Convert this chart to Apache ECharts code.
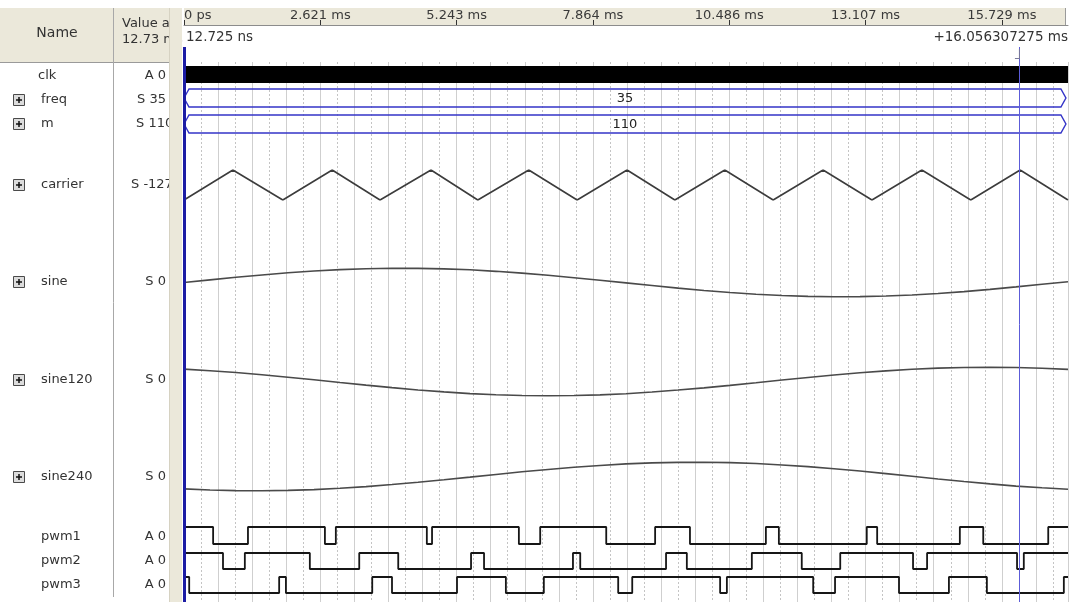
<!DOCTYPE html>
<html>
<head>
<meta charset="utf-8">
<script src="https://cdn.jsdelivr.net/npm/echarts@6/dist/echarts.min.js"></script>
<style>
html, body { margin: 0; padding: 0; background: #fff; }
#chart-canvas { width: 1073px; height: 602px; }
</style>
</head>
<body>
<div id="chart-canvas"></div>
<script>
// all times in ms
const T_MAX = 17.0;
const GRID_STEP = 0.32768;   // dashed grid lines
const TICK_STEP = 2.62144;   // time ruler labels
const cursorTimes = [0, 16.056307275];

const signalNames = ['clk', 'freq', 'm', 'carrier', 'sine', 'sine120', 'sine240', 'pwm1', 'pwm2', 'pwm3'];
const signalValues = ['A 0', 'S 35', 'S 110', 'S -127', 'S 0', 'S 0', 'S 0', 'A 0', 'A 0', 'A 0'];
const hasExpand = [false, true, true, true, true, true, true, false, false, false];

// clk toggles far too fast to resolve, shown as one solid block
const clkBlock = [[0, 17.0]];
const freqBus = [[0, 16.96, 35]];
const mBus = [[0, 16.96, 110]];

const carrierTimes = [0, 0.94, 1.90, 2.85, 3.77, 4.75, 5.65, 6.63, 7.56, 8.52, 9.44, 10.40, 11.33, 12.29, 13.23, 14.19, 15.13, 16.08, 17.0];
const carrierLevels = [-127, 127, -127, 127, -127, 127, -127, 127, -127, 127, -127, 127, -127, 127, -127, 127, -127, 127, -127];

const sineTimes = [0, 0.5, 1, 1.5, 2, 2.5, 3, 3.5, 4, 4.5, 5, 5.5, 6, 6.5, 7, 7.5, 8, 8.5, 9, 9.5, 10, 10.5, 11, 11.5, 12, 12.5, 13, 13.5, 14, 14.5, 15, 15.5, 16, 16.5, 17];
const sineValues = [0, 20, 40, 58, 75, 88, 99, 106, 110, 109, 105, 98, 86, 72, 56, 37, 17, -3, -23, -43, -61, -77, -90, -100, -107, -110, -109, -104, -96, -85, -70, -53, -34, -14, 6];
const sine120Values = [95, 83, 69, 52, 33, 13, -8, -28, -47, -65, -80, -93, -102, -108, -110, -108, -103, -94, -81, -66, -49, -30, -10, 11, 31, 50, 67, 82, 94, 103, 108, 110, 108, 102, 93];
const sine240Values = [-95, -104, -109, -110, -107, -101, -91, -78, -62, -44, -25, -5, 16, 36, 54, 71, 85, 97, 105, 109, 110, 107, 100, 89, 76, 60, 42, 22, 2, -19, -39, -57, -74, -87, -98];

// edge times, every signal starts high
const pwm1Edges = [0.56, 1.23, 2.71, 2.92, 4.67, 4.77, 6.44, 6.85, 8.12, 9.06, 9.73, 11.19, 11.44, 13.13, 13.33, 14.92, 15.37, 16.62];
const pwm2Edges = [0.75, 1.17, 2.42, 3.37, 4.12, 5.52, 5.77, 7.48, 7.62, 9.27, 9.67, 10.92, 11.88, 12.62, 14.02, 14.29, 16.02, 16.15];
const pwm3Edges = [0.10, 1.83, 1.96, 3.62, 4.00, 5.25, 6.19, 6.92, 8.35, 8.62, 10.31, 10.44, 12.10, 12.52, 13.75, 14.71, 15.44, 16.92];

// layout of the rows (pixels)
const rows = [
    { top: 66, height: 17, labelY: 76 },
    { top: 89, height: 18, labelY: 100 },
    { top: 115, height: 18, labelY: 124 },
    { top: 170, height: 30, labelY: 185 },
    { top: 266, height: 33, labelY: 282 },
    { top: 365, height: 33, labelY: 380 },
    { top: 460, height: 33, labelY: 477 },
    { top: 527, height: 17, labelY: 537 },
    { top: 553, height: 16, labelY: 561 },
    { top: 577, height: 16, labelY: 585 }
];
const PLOT_LEFT = 184;
const PLOT_RIGHT = 5;
const BEIGE = '#ebe8da';
const FONT = '"DejaVu Sans", sans-serif';

function zip(xs, ys) {
    return xs.map((x, i) => [x, ys[i]]);
}

function stepData(edges) {
    let level = 1;
    const d = [[0, level]];
    edges.forEach(t => {
        level = 1 - level;
        d.push([t, level]);
    });
    d.push([T_MAX, level]);
    return d;
}

function busItem(params, api) {
    const x0 = api.coord([api.value(0), 0])[0];
    const x1 = api.coord([api.value(1), 0])[0];
    const yT = api.coord([0, 1])[1];
    const yB = api.coord([0, -1])[1];
    const yM = (yT + yB) / 2;
    const n = 5;
    return {
        type: 'group',
        children: [
            {
                type: 'polygon',
                shape: { points: [[x0, yM], [x0 + n, yT], [x1 - n, yT], [x1, yM], [x1 - n, yB], [x0 + n, yB]] },
                style: { fill: 'none', stroke: '#3434c8', lineWidth: 1.4 }
            },
            {
                type: 'text',
                style: {
                    text: String(api.value(2)), x: (x0 + x1) / 2, y: yM + 1,
                    align: 'center', verticalAlign: 'middle', fill: '#222', font: '13px ' + FONT
                }
            }
        ]
    };
}

function clkItem(params, api) {
    const p0 = api.coord([api.value(0), 1]);
    const p1 = api.coord([api.value(1), 0]);
    return {
        type: 'rect',
        shape: { x: p0[0], y: p0[1], width: p1[0] - p0[0], height: p1[1] - p0[1] },
        style: { fill: '#000' }
    };
}

// small cursor handle drawn in the ruler strip
function cursorHandle(params, api) {
    const x = api.coord([api.value(0), 0])[0];
    return {
        type: 'group',
        children: [
            { type: 'line', shape: { x1: x + 0.5, y1: 49, x2: x + 0.5, y2: 59 }, style: { stroke: '#7a7a9a', lineWidth: 1 } },
            { type: 'line', shape: { x1: x - 4, y1: 58.5, x2: x + 1, y2: 58.5 }, style: { stroke: '#7a7a9a', lineWidth: 1 } }
        ]
    };
}

const chart = echarts.init(document.getElementById('chart-canvas'));

const grids = [
    { left: PLOT_LEFT, right: PLOT_RIGHT, top: 8, height: 17 },   // time ruler
    { left: PLOT_LEFT, right: PLOT_RIGHT, top: 62, bottom: 0 },   // grid lines
    { left: PLOT_LEFT, right: PLOT_RIGHT, top: 47, bottom: 0 }    // cursors
];
rows.forEach(r => grids.push({ left: PLOT_LEFT, right: PLOT_RIGHT, top: r.top, height: r.height }));

const xAxes = [
    {
        gridIndex: 0, type: 'value', min: 0, max: T_MAX, interval: TICK_STEP,
        axisLine: { show: true, lineStyle: { color: '#8c8c8c' } },
        axisTick: { show: true, inside: true, length: 5, lineStyle: { color: '#333' } },
        axisLabel: {
            inside: true, margin: 3, showMaxLabel: false, alignMinLabel: 'left',
            color: '#3a3a3a', fontSize: 13, fontFamily: FONT,
            formatter: v => (v === 0 ? '0 ps' : v.toFixed(3) + ' ms')
        },
        splitLine: { show: false }
    },
    {
        gridIndex: 1, type: 'value', min: 0, max: T_MAX, interval: GRID_STEP * 2,
        axisLine: { show: false }, axisTick: { show: false }, axisLabel: { show: false },
        splitLine: { show: true, lineStyle: { color: '#cfcfcf', width: 1 } },
        minorTick: { show: false, splitNumber: 2 },
        minorSplitLine: { show: true, lineStyle: { color: '#c4c4c4', width: 1, type: [2, 2] } }
    },
    { gridIndex: 2, type: 'value', min: 0, max: T_MAX, show: false }
];
const yAxes = [
    { gridIndex: 0, show: false, min: 0, max: 1 },
    { gridIndex: 1, show: false, min: 0, max: 1 },
    { gridIndex: 2, show: false, min: 0, max: 1 }
];
const rowRanges = [[0, 1], [-1, 1], [-1, 1], [-127, 127], [-127, 127], [-127, 127], [-127, 127], [0, 1], [0, 1], [0, 1]];
rows.forEach((r, i) => {
    xAxes.push({ gridIndex: i + 3, type: 'value', min: 0, max: T_MAX, show: false });
    yAxes.push({ gridIndex: i + 3, type: 'value', min: rowRanges[i][0], max: rowRanges[i][1], show: false });
});

const waveLine = (color, width) => ({ color: color, width: width });

const series = [
    {
        type: 'line', xAxisIndex: 2, yAxisIndex: 2, data: [], showSymbol: false, z: 10,
        markLine: {
            symbol: 'none', silent: true, label: { show: false }, animation: false,
            data: [
                { xAxis: cursorTimes[0], lineStyle: { color: '#1c1ca4', width: 3, type: 'solid' } },
                { xAxis: cursorTimes[1], lineStyle: { color: '#5c5cd8', width: 1, type: 'solid' } }
            ]
        }
    },
    {
        type: 'custom', xAxisIndex: 2, yAxisIndex: 2, z: 10, clip: false,
        data: [[cursorTimes[1]]], renderItem: cursorHandle, encode: { x: 0 }
    },
    { name: 'clk', type: 'custom', xAxisIndex: 3, yAxisIndex: 3, data: clkBlock, renderItem: clkItem, encode: { x: [0, 1] } },
    { name: 'freq', type: 'custom', xAxisIndex: 4, yAxisIndex: 4, data: freqBus, renderItem: busItem, encode: { x: [0, 1] } },
    { name: 'm', type: 'custom', xAxisIndex: 5, yAxisIndex: 5, data: mBus, renderItem: busItem, encode: { x: [0, 1] } },
    { name: 'carrier', type: 'line', xAxisIndex: 6, yAxisIndex: 6, data: zip(carrierTimes, carrierLevels), showSymbol: false, lineStyle: waveLine('#3c3c3c', 1.6) },
    { name: 'sine', type: 'line', xAxisIndex: 7, yAxisIndex: 7, data: zip(sineTimes, sineValues), showSymbol: false, lineStyle: waveLine('#4a4a4a', 1.6) },
    { name: 'sine120', type: 'line', xAxisIndex: 8, yAxisIndex: 8, data: zip(sineTimes, sine120Values), showSymbol: false, lineStyle: waveLine('#4a4a4a', 1.6) },
    { name: 'sine240', type: 'line', xAxisIndex: 9, yAxisIndex: 9, data: zip(sineTimes, sine240Values), showSymbol: false, lineStyle: waveLine('#4a4a4a', 1.6) },
    { name: 'pwm1', type: 'line', step: 'end', xAxisIndex: 10, yAxisIndex: 10, data: stepData(pwm1Edges), showSymbol: false, lineStyle: waveLine('#161616', 1.8) },
    { name: 'pwm2', type: 'line', step: 'end', xAxisIndex: 11, yAxisIndex: 11, data: stepData(pwm2Edges), showSymbol: false, lineStyle: waveLine('#161616', 1.8) },
    { name: 'pwm3', type: 'line', step: 'end', xAxisIndex: 12, yAxisIndex: 12, data: stepData(pwm3Edges), showSymbol: false, lineStyle: waveLine('#161616', 1.8) }
];

// window chrome: headers, name and value columns
const graphic = [
    { type: 'rect', shape: { x: 0, y: 8, width: 172, height: 54 }, style: { fill: BEIGE }, z: 0 },
    { type: 'rect', shape: { x: 184, y: 8, width: 882, height: 17 }, style: { fill: BEIGE }, z: 0 },
    { type: 'line', shape: { x1: 0, y1: 62.5, x2: 172, y2: 62.5 }, style: { stroke: '#9a9a9a', lineWidth: 1 }, z: 1 },
    { type: 'line', shape: { x1: 113.5, y1: 8, x2: 113.5, y2: 597 }, style: { stroke: '#a8a8a8', lineWidth: 1 }, z: 1 },
    { type: 'line', shape: { x1: 1065.5, y1: 8, x2: 1065.5, y2: 25 }, style: { stroke: '#9a9a9a', lineWidth: 1 }, z: 1 },
    { type: 'text', style: { text: 'Name', x: 57, y: 33, align: 'center', verticalAlign: 'middle', fill: '#333', font: '14px ' + FONT }, z: 2 },
    { type: 'text', style: { text: 'Value at', x: 122, y: 24, align: 'left', verticalAlign: 'middle', fill: '#333', font: '13px ' + FONT }, z: 2 },
    { type: 'text', style: { text: '12.73 ms', x: 122, y: 40, align: 'left', verticalAlign: 'middle', fill: '#333', font: '13px ' + FONT }, z: 2 },
    { type: 'text', style: { text: '12.725 ns', x: 186, y: 37, align: 'left', verticalAlign: 'middle', fill: '#333', font: '13.5px ' + FONT }, z: 2 },
    { type: 'text', style: { text: '+16.056307275 ms', x: 1068, y: 37, align: 'right', verticalAlign: 'middle', fill: '#333', font: '13.5px ' + FONT }, z: 2 }
];
signalNames.forEach((name, i) => {
    const y = rows[i].labelY;
    graphic.push({
        type: 'text', z: 2,
        style: { text: name, x: i === 0 ? 38 : 41, y: y, align: 'left', verticalAlign: 'middle', fill: '#333', font: '13px ' + FONT }
    });
    const val = signalValues[i];
    const long = val.length > 4;
    graphic.push({
        type: 'text', z: 2,
        style: {
            text: val, x: long ? (val === 'S 110' ? 136 : 131) : 166, y: y,
            align: long ? 'left' : 'right', verticalAlign: 'middle', fill: '#333', font: '13px ' + FONT
        }
    });
    if (hasExpand[i]) {
        graphic.push({ type: 'rect', z: 2, shape: { x: 13.5, y: y - 5.5, width: 11, height: 11 }, style: { fill: '#dcdcdc', stroke: '#4a4a4a', lineWidth: 1 } });
        graphic.push({ type: 'line', z: 3, shape: { x1: 16, y1: y, x2: 22, y2: y }, style: { stroke: '#111', lineWidth: 1.5 } });
        graphic.push({ type: 'line', z: 3, shape: { x1: 19, y1: y - 3, x2: 19, y2: y + 3 }, style: { stroke: '#111', lineWidth: 1.5 } });
    }
});
// splitter strip, on top so long values get clipped
graphic.push({ type: 'rect', shape: { x: 169, y: 8, width: 13, height: 594 }, style: { fill: BEIGE }, z: 20 });
graphic.push({ type: 'line', shape: { x1: 169.5, y1: 8, x2: 169.5, y2: 602 }, style: { stroke: '#d6d2c2', lineWidth: 1 }, z: 21 });

const option = {
    animation: false,
    backgroundColor: '#fff',
    grid: grids,
    xAxis: xAxes,
    yAxis: yAxes,
    series: series,
    graphic: graphic
};
chart.setOption(option);
</script>
</body>
</html>
